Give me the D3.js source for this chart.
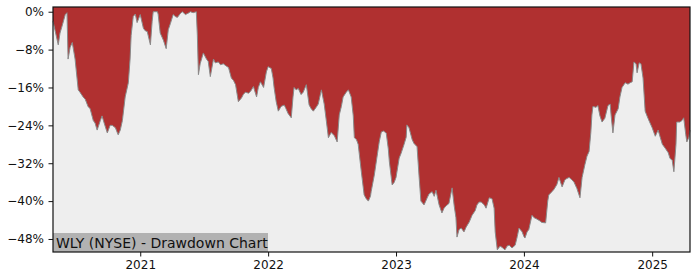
<!DOCTYPE html>
<html>
<head>
<meta charset="utf-8">
<script src="https://cdn.jsdelivr.net/npm/d3@7"></script>
<style>
  body { margin: 0; background: #fff; }
  text { font-family: "DejaVu Sans", sans-serif; }
</style>
</head>
<body>
<svg id="chart" width="700" height="280"></svg>
<script>
// drawdown readings, % below the running peak
const dates = [
  "2020-04-27","2020-05-03","2020-05-12","2020-05-17","2020-05-23","2020-06-01","2020-06-06","2020-06-09","2020-06-15","2020-06-21","2020-06-29","2020-07-08","2020-07-13","2020-07-22","2020-07-28","2020-08-05","2020-08-11","2020-08-20","2020-08-25","2020-08-31","2020-09-09","2020-09-14","2020-09-20","2020-09-29","2020-10-07","2020-10-13","2020-10-22","2020-10-30","2020-11-05","2020-11-11","2020-11-19","2020-11-28","2020-12-03","2020-12-06","2020-12-12","2020-12-18","2020-12-23",
  "2021-01-01","2021-01-10","2021-01-15","2021-01-21","2021-01-30","2021-02-04","2021-02-07","2021-02-19","2021-02-21","2021-02-27","2021-03-08","2021-03-16","2021-03-22","2021-03-28","2021-04-05","2021-04-11","2021-04-17","2021-04-25","2021-05-01","2021-05-10","2021-05-18","2021-05-24","2021-06-01","2021-06-10","2021-06-13","2021-06-16","2021-06-21","2021-06-30","2021-07-09","2021-07-14","2021-07-20","2021-07-29","2021-08-03","2021-08-12","2021-08-18","2021-08-26","2021-09-04","2021-09-10","2021-09-18","2021-09-24","2021-09-30","2021-10-08","2021-10-17","2021-10-22","2021-10-28","2021-11-06","2021-11-12","2021-11-20","2021-11-29","2021-12-04","2021-12-10","2021-12-19","2021-12-27",
  "2022-01-01","2022-01-10","2022-01-15","2022-01-18","2022-01-24","2022-01-30","2022-02-07","2022-02-16","2022-02-21","2022-02-27","2022-03-08","2022-03-13","2022-03-16","2022-03-22","2022-03-28","2022-04-05","2022-04-11","2022-04-20","2022-04-28","2022-05-04","2022-05-10","2022-05-18","2022-05-24","2022-06-02","2022-06-10","2022-06-16","2022-06-22","2022-06-30","2022-07-09","2022-07-17","2022-07-23","2022-07-29","2022-08-03","2022-08-12","2022-08-18","2022-08-26","2022-09-01","2022-09-04","2022-09-10","2022-09-15","2022-09-24","2022-10-02","2022-10-08","2022-10-14","2022-10-20","2022-10-22","2022-10-31","2022-11-09","2022-11-14","2022-11-20","2022-11-26","2022-12-04","2022-12-10","2022-12-13","2022-12-21","2022-12-27",
  "2023-01-01","2023-01-10","2023-01-15","2023-01-24","2023-01-30","2023-02-01","2023-02-07","2023-02-16","2023-02-21","2023-03-02","2023-03-08","2023-03-13","2023-03-22","2023-03-31","2023-04-05","2023-04-14","2023-04-20","2023-04-25","2023-05-04","2023-05-12","2023-05-18","2023-05-24","2023-06-01","2023-06-10","2023-06-16","2023-06-21","2023-06-24","2023-06-30","2023-07-06","2023-07-14","2023-07-20","2023-07-29","2023-08-06","2023-08-15","2023-08-20","2023-08-26","2023-09-01","2023-09-10","2023-09-15","2023-09-24","2023-10-02","2023-10-08","2023-10-11","2023-10-17","2023-10-25","2023-10-31","2023-11-08","2023-11-14","2023-11-20","2023-11-28","2023-12-07","2023-12-13","2023-12-18","2023-12-27",
  "2024-01-01","2024-01-04","2024-01-10","2024-01-15","2024-01-24","2024-01-30","2024-02-07","2024-02-16","2024-02-21","2024-03-03","2024-03-09","2024-03-12","2024-03-21","2024-03-27","2024-04-04","2024-04-10","2024-04-19","2024-04-27","2024-05-03","2024-05-09","2024-05-17","2024-05-23","2024-05-31","2024-06-09","2024-06-15","2024-06-23","2024-06-29","2024-07-05","2024-07-10","2024-07-13","2024-07-16","2024-07-25","2024-07-30","2024-08-05","2024-08-11","2024-08-19","2024-08-28","2024-09-03","2024-09-06","2024-09-11","2024-09-17","2024-09-26","2024-10-01","2024-10-07","2024-10-16","2024-10-24","2024-10-30","2024-11-05","2024-11-10","2024-11-16","2024-11-19","2024-11-25","2024-11-30","2024-12-06","2024-12-12","2024-12-20","2024-12-26",
  "2025-01-01","2025-01-10","2025-01-18","2025-01-24","2025-01-30","2025-02-07","2025-02-16","2025-02-21","2025-02-27","2025-03-04","2025-03-10","2025-03-12","2025-03-21","2025-03-27","2025-04-01","2025-04-07","2025-04-10","2025-04-16","2025-04-19"
];
const drawdown = [
  -2.0,-4.0,-7.0,-4.5,-3.0,-0.6,-0.2,-10.0,-7.5,-6.5,-10.0,-16.5,-17.0,-18.0,-18.5,-20.0,-20.5,-23.0,-23.5,-25.0,-23.0,-22.0,-23.5,-25.6,-24.0,-24.0,-24.5,-26.0,-25.0,-23.0,-18.0,-15.0,-10.0,-5.0,-1.0,-0.5,-2.3,
  -0.6,-3.5,-4.0,-4.2,-7.0,-2.0,0,0,-0.5,-4.5,-6.0,-7.8,-3.8,-2.5,-0.6,-1.0,-1.2,-0.4,0,-0.6,-0.3,0,-0.2,0,-5.0,-13.3,-11.0,-8.7,-10.0,-10.5,-13.7,-10.0,-10.8,-10.6,-11.2,-11.0,-11.5,-11.8,-14.0,-14.5,-15.4,-19.0,-18.2,-17.5,-17.0,-17.2,-16.8,-15.8,-18.0,-16.0,-14.8,-16.0,-12.7,
  -11.6,-12.0,-14.0,-16.0,-19.0,-21.0,-20.0,-19.7,-20.5,-21.5,-22.4,-18.0,-16.0,-16.5,-16.2,-17.5,-17.0,-15.4,-19.7,-20.5,-21.0,-20.2,-19.5,-16.5,-19.5,-23.0,-26.6,-25.5,-26.2,-27.5,-21.8,-20.0,-18.0,-17.0,-16.5,-18.0,-22.0,-26.6,-27.0,-28.0,-33.8,-38.7,-39.5,-40.0,-39.0,-38.0,-34.5,-30.0,-27.5,-25.4,-25.2,-25.6,-29.0,-31.7,-36.6,-36.0,
  -35.0,-30.9,-30.0,-28.0,-26.5,-23.9,-24.5,-27.0,-27.8,-28.5,-35.0,-40.0,-40.8,-39.3,-38.5,-38.0,-39.0,-37.7,-40.8,-42.5,-41.5,-41.0,-40.5,-37.2,-41.0,-43.5,-47.6,-46.0,-45.7,-46.5,-45.5,-44.4,-43.0,-42.0,-40.8,-40.2,-40.2,-40.8,-41.5,-39.3,-39.5,-41.5,-46.5,-50.3,-49.5,-49.8,-50.3,-49.5,-49.3,-49.9,-49.3,-47.5,-45.7,-46.5,
  -47.5,-47.8,-46.5,-46.0,-43.0,-43.5,-43.8,-44.2,-44.5,-44.6,-40.0,-38.7,-38.0,-37.5,-36.5,-35.0,-37.0,-35.5,-35.2,-35.0,-35.5,-36.0,-37.3,-39.3,-35.0,-32.3,-30.5,-29.5,-25.5,-21.8,-20.0,-20.2,-19.8,-22.0,-23.3,-22.5,-19.8,-19.5,-22.0,-25.6,-21.8,-20.5,-18.0,-16.0,-15.0,-15.3,-15.0,-14.8,-10.6,-11.0,-12.9,-10.8,-11.0,-14.0,-21.0,-22.5,-23.5,
  -24.5,-26.3,-25.0,-26.5,-28.0,-28.8,-29.8,-31.0,-31.3,-33.8,-28.0,-23.3,-23.3,-23.0,-22.4,-26.0,-27.5,-26.5,-25.0
];
const yTicks = [0, -8, -16, -24, -32, -40, -48];
const xTickYears = [2021, 2022, 2023, 2024, 2025];
const title = "WLY (NYSE) - Drawdown Chart";

const svg = d3.select("#chart");
const margin = {top: 7, right: 10, bottom: 28, left: 53};
const width = 700 - margin.left - margin.right;
const height = 280 - margin.top - margin.bottom;

const parse = d3.timeParse("%Y-%m-%d");
const data = dates.map((d, i) => ({date: parse(d), dd: drawdown[i]}));

const x = d3.scaleTime()
    .domain(d3.extent(data, d => d.date))
    .range([0, width]);
const y = d3.scaleLinear()
    .domain([-50.75, 1.0])
    .range([height, 0]);

const g = svg.append("g").attr("transform", `translate(${margin.left},${margin.top})`);

g.append("rect")
    .attr("width", width).attr("height", height)
    .attr("fill", "#eeeeee");

// red fill from the top of the axes down to the drawdown line
const area = d3.area()
    .x(d => x(d.date))
    .y0(0)
    .y1(d => y(d.dd));
g.append("path").datum(data)
    .attr("d", area)
    .attr("fill", "#b03030");

const line = d3.line()
    .x(d => x(d.date))
    .y(d => y(d.dd));
g.append("path").datum(data)
    .attr("d", line)
    .attr("fill", "none")
    .attr("stroke", "#8a8a8a")
    .attr("stroke-width", 1);

// title box
const tb = g.append("g").attr("transform", `translate(0,${height})`);
tb.append("rect")
    .attr("x", 0).attr("y", -19)
    .attr("width", 215).attr("height", 19)
    .attr("fill", "#b2b2b2");
tb.append("text")
    .attr("x", 3).attr("y", -4.5)
    .attr("font-size", 14)
    .attr("fill", "#111")
    .text(title);

const fmt = v => (v < 0 ? "\u2212" : "") + Math.abs(v) + "%";

const yAxis = g.append("g")
    .call(d3.axisLeft(y).tickValues(yTicks).tickFormat(fmt).tickSize(4.5).tickPadding(4.5));
const xAxis = g.append("g")
    .attr("transform", `translate(0,${height})`)
    .call(d3.axisBottom(x)
        .tickValues(xTickYears.map(yr => new Date(yr, 0, 1)))
        .tickFormat(d3.timeFormat("%Y"))
        .tickSize(4.5).tickPadding(4));

[yAxis, xAxis].forEach(a => {
    a.select(".domain").remove();
    a.selectAll("text").attr("font-size", 12).attr("fill", "#111").attr("font-family", "DejaVu Sans");
    a.selectAll("line").attr("stroke", "#111");
});

g.append("rect")
    .attr("width", width).attr("height", height)
    .attr("fill", "none")
    .attr("stroke", "#111")
    .attr("stroke-width", 1.2);
</script>
</body>
</html>
